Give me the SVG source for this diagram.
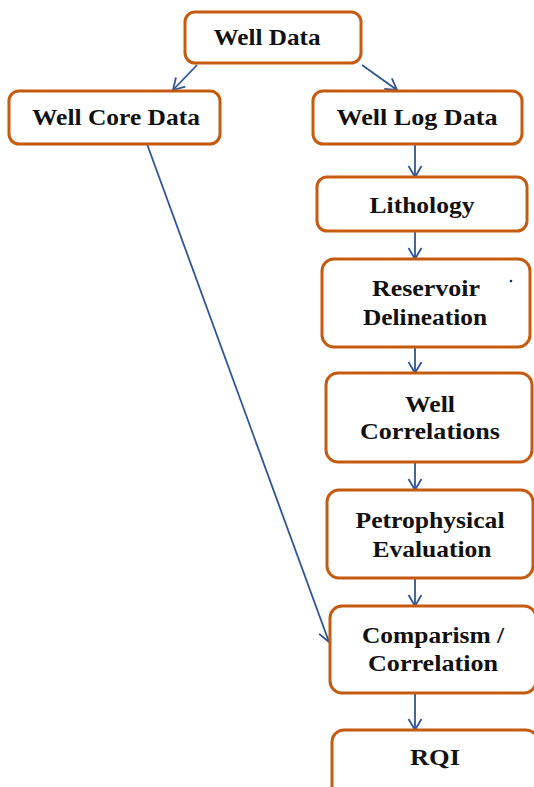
<svg xmlns="http://www.w3.org/2000/svg" width="534" height="787" viewBox="0 0 534 787">
<defs>
<marker id="ah" markerWidth="16" markerHeight="16" refX="12" refY="8" orient="auto" markerUnits="userSpaceOnUse">
<path d="M1,1.5 L12,8 L1,14.5" fill="none" stroke="#2F5597" stroke-width="1.8"/>
</marker>
</defs>
<style>
.box{fill:#fff;stroke:#C55A11;stroke-width:3}
.t{font-family:"Liberation Serif","Times New Roman",serif;font-weight:bold;font-size:24px;fill:#111;text-anchor:middle}
.c{stroke:#2F5597;stroke-width:1.8;fill:none;marker-end:url(#ah)}
</style>
<rect width="534" height="787" fill="#fff"/>
<g id="connectors">
<line class="c" x1="197" y1="65" x2="173" y2="90"/>
<line class="c" x1="362" y1="65" x2="397" y2="90"/>
<line class="c" x1="415" y1="144" x2="415" y2="177"/>
<line class="c" x1="415" y1="231" x2="415" y2="259"/>
<line class="c" x1="415" y1="347" x2="415" y2="373"/>
<line class="c" x1="415" y1="462" x2="415" y2="490"/>
<line class="c" x1="415" y1="578" x2="415" y2="606"/>
<line class="c" x1="415" y1="693" x2="415" y2="730"/>
<line class="c" x1="147" y1="144" x2="329" y2="642"/>
</g>
<g id="well-data">
<rect class="box" x="185" y="12" width="176" height="51" rx="10"/>
<text class="t" x="267" y="45" textLength="107" lengthAdjust="spacingAndGlyphs">Well Data</text>
</g>
<g id="well-core-data">
<rect class="box" x="9" y="91" width="211" height="53" rx="10"/>
<text class="t" x="116" y="125" textLength="168" lengthAdjust="spacingAndGlyphs">Well Core Data</text>
</g>
<g id="well-log-data">
<rect class="box" x="313" y="91" width="209" height="53" rx="10"/>
<text class="t" x="417" y="125" textLength="161" lengthAdjust="spacingAndGlyphs">Well Log Data</text>
</g>
<g id="lithology">
<rect class="box" x="317" y="177" width="210" height="54" rx="10"/>
<text class="t" x="422" y="213" textLength="105" lengthAdjust="spacingAndGlyphs">Lithology</text>
</g>
<g id="reservoir-delineation">
<rect class="box" x="322" y="259" width="208" height="88" rx="12"/>
<text class="t" x="426" y="296" textLength="108" lengthAdjust="spacingAndGlyphs">Reservoir</text>
<text class="t" x="425" y="325" textLength="124" lengthAdjust="spacingAndGlyphs">Delineation</text>
<circle cx="511" cy="281" r="1.3" fill="#1F2A80"/>
</g>
<g id="well-correlations">
<rect class="box" x="326" y="373" width="206" height="89" rx="12"/>
<text class="t" x="430" y="412" textLength="50" lengthAdjust="spacingAndGlyphs">Well</text>
<text class="t" x="430" y="439" textLength="140" lengthAdjust="spacingAndGlyphs">Correlations</text>
</g>
<g id="petrophysical-evaluation">
<rect class="box" x="327" y="490" width="206" height="88" rx="12"/>
<text class="t" x="430" y="528" textLength="149" lengthAdjust="spacingAndGlyphs">Petrophysical</text>
<text class="t" x="432" y="557" textLength="119" lengthAdjust="spacingAndGlyphs">Evaluation</text>
</g>
<g id="comparism-correlation">
<rect class="box" x="330" y="606" width="206" height="87" rx="12"/>
<text class="t" x="433" y="643" textLength="142" lengthAdjust="spacingAndGlyphs">Comparism /</text>
<text class="t" x="433" y="671" textLength="130" lengthAdjust="spacingAndGlyphs">Correlation</text>
</g>
<g id="rqi">
<rect class="box" x="332" y="730" width="206" height="70" rx="12"/>
<text class="t" x="435" y="765" textLength="50" lengthAdjust="spacingAndGlyphs">RQI</text>
</g>
</svg>
